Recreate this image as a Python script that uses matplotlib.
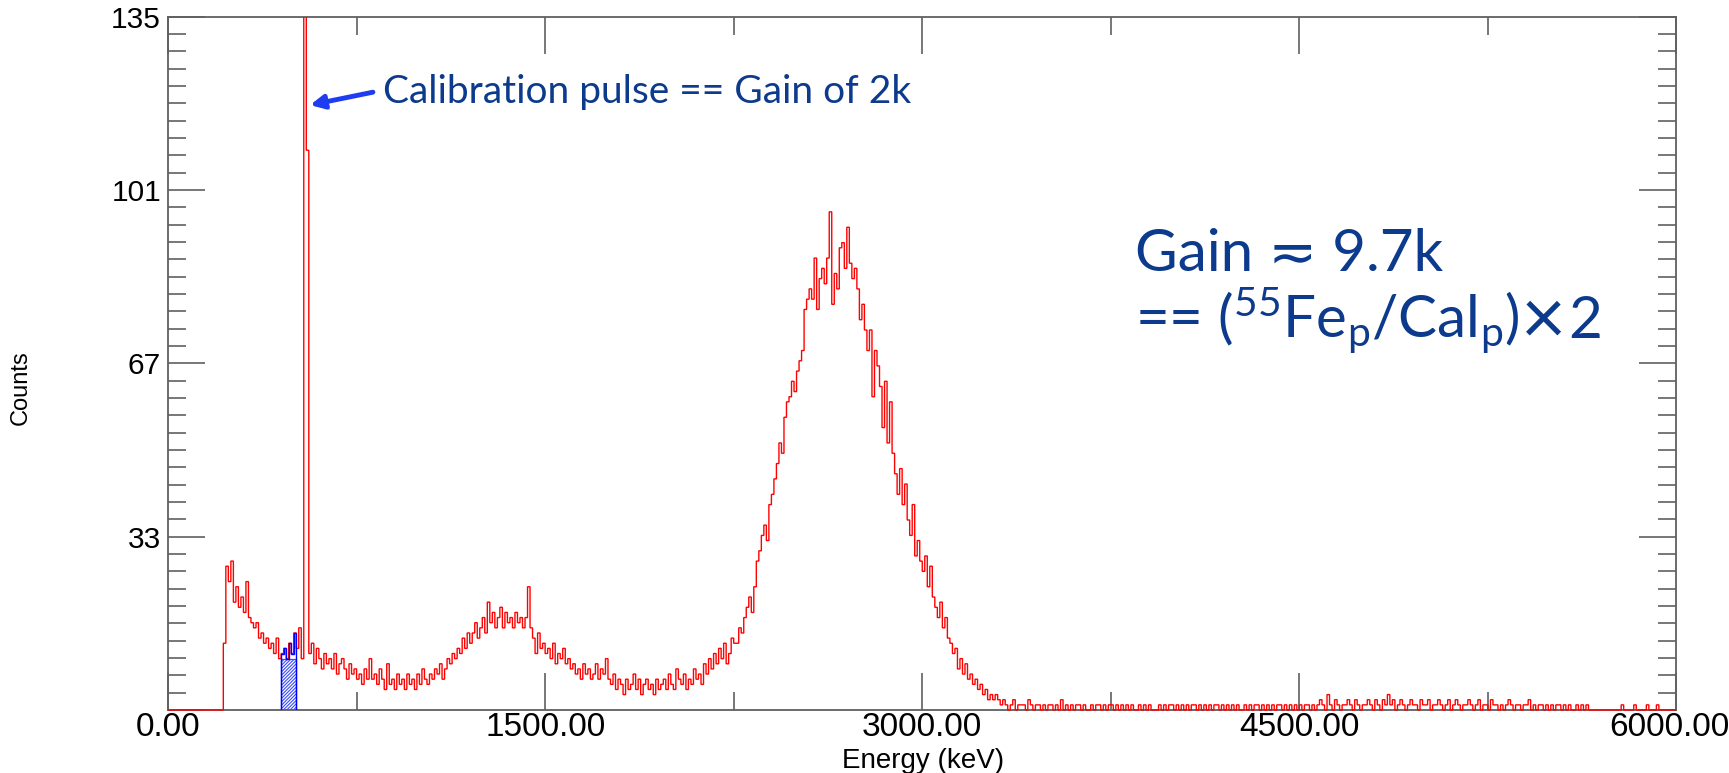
import numpy as np
import matplotlib
matplotlib.use("agg")
import matplotlib.pyplot as plt
import matplotlib.patheffects as pe
from matplotlib.patches import Rectangle
from matplotlib.transforms import ScaledTranslation
from matplotlib.ticker import MultipleLocator, FixedLocator, FixedFormatter

plt.rcParams["font.family"] = ["Liberation Sans", "DejaVu Sans"]
plt.rcParams["mathtext.fontset"] = "custom"
plt.rcParams["mathtext.rm"] = "Lato"
plt.rcParams["mathtext.it"] = "Lato:italic"
plt.rcParams["hatch.linewidth"] = 0.8

# -- spectrum, 10 keV bins --
BIN_KEV = 10
E_MAX = 6000

counts_below_threshold = [0] * 22          # 0 - 210 keV
counts_low = [                             # 220 - 990 keV
    13, 28, 25, 29, 21, 24, 20, 22,
    19, 25, 18, 17, 16, 17, 14, 15, 13, 14,
    12, 13, 11, 14, 10, 11, 12, 10, 13, 11,
    15, 12, 16, 10, 160, 109, 11, 13, 9, 12,
    10, 8, 11, 9, 10, 8, 11, 7, 9, 10,
    8, 6, 9, 7, 8, 6, 7, 5, 8, 6,
    10, 6, 7, 5, 8, 6, 4, 9, 5, 6,
    4, 7, 5, 6, 4, 7, 5, 6, 4, 7,
]
counts_bump = [                            # 1000 - 1990 keV
    5, 8, 6, 5, 7, 6, 8, 7, 9, 6,
    8, 10, 9, 11, 10, 12, 11, 14, 12, 15,
    13, 15, 17, 14, 16, 18, 15, 21, 17, 19,
    16, 18, 20, 16, 19, 17, 18, 16, 19, 17,
    18, 16, 18, 24, 16, 14, 11, 15, 12, 13,
    11, 12, 10, 13, 9, 11, 10, 12, 9, 10,
    8, 9, 7, 8, 6, 9, 7, 8, 6, 7,
    9, 6, 8, 7, 10, 6, 5, 7, 4, 6,
    5, 3, 6, 4, 5, 7, 4, 6, 3, 5,
    6, 4, 5, 3, 6, 4, 5, 6, 4, 7,
]
counts_peak = [                            # 2000 - 3340 keV
    5, 4, 8, 6, 5, 7, 4, 6, 5, 8,
    6, 7, 5, 9, 7, 10, 8, 11, 9, 12,
    10, 13, 9, 11, 14, 13, 13, 16, 15, 18,
    20, 22, 19, 24, 29, 31, 34, 36, 33, 40,
    42, 45, 48, 52, 50, 57, 60, 61, 64, 62,
    66, 68, 70, 78, 80, 82, 80, 88, 78, 84,
    86, 83, 88, 97, 79, 85, 82, 90, 91, 86,
    94, 87, 84, 86, 82, 76, 79, 74, 70, 74,
    61, 70, 67, 63, 55, 64, 52, 60, 50, 46,
    42, 47, 40, 44, 37, 34, 40, 30, 33, 29,
    27, 30, 24, 28, 22, 20, 18, 21, 16, 18,
    14, 13, 11, 12, 8, 10, 7, 9, 6, 7,
    5, 6, 4, 5, 3, 4, 2, 3, 2, 3,
    2, 1, 2, 1, 0,
]
counts_tail = [                            # 3350 - 5990 keV
    1, 2, 0, 1, 1,
    1, 0, 2, 1, 0, 1, 1, 0, 1, 0,
    1, 1, 0, 1, 0, 2, 0, 1, 0, 1,
    0, 1, 1, 0, 1, 0, 0, 1, 0, 1,
    1, 0, 1, 0, 1, 1, 0, 1, 0, 1,
    0, 1, 0, 1, 0, 0, 1, 0, 1, 0,
    1, 0, 0, 0, 1, 0, 1, 0, 1, 1,
    0, 1, 0, 1, 0, 1, 0, 1, 1, 0,
    1, 0, 1, 0, 1, 0, 1, 1, 0, 1,
    0, 1, 0, 1, 0, 1, 0, 0, 1, 0,
    1, 0, 1, 1, 0, 1, 0, 1, 0, 1,
    0, 1, 1, 0, 1, 0, 1, 0, 1, 0,
    1, 0, 1, 1, 0, 1, 0, 1, 2, 1,
    0, 3, 1, 0, 2, 1, 0, 1, 1, 2,
    1, 0, 2, 1, 0, 1, 1, 2, 1, 0,
    2, 1, 0, 2, 1, 3, 1, 2, 0, 1,
    2, 1, 0, 1, 2, 1, 1, 0, 2, 1,
    1, 2, 0, 1, 1, 2, 1, 0, 1, 2,
    0, 1, 2, 1, 0, 1, 1, 2, 1, 0,
    1, 2, 0, 1, 1, 0, 2, 1, 1, 0,
    1, 0, 1, 2, 1, 0, 1, 1, 0, 1,
    1, 2, 0, 1, 0, 1, 1, 0, 1, 0,
    1, 0, 1, 1, 0, 1, 0, 1, 0, 0,
    1, 0, 1, 0, 1, 0, 0, 0, 0, 0,
    0, 0, 0, 0, 0, 0, 0, 0, 1, 0,
    0, 0, 0, 1, 0, 0, 0, 0, 1, 0,
    0, 0, 1, 0, 0, 0, 0, 0, 0, 0,
]

# blue gate region (keV)
gate_lo_kev, gate_hi_kev = 450, 510

x_ticks = [0, 1500, 3000, 4500, 6000]
x_ticklabels = ["0.00", "1500.00", "3000.00", "4500.00", "6000.00"]
y_max = 135
y_ticks = [0, 33.75, 67.5, 101.25, 135]
y_ticklabels = ["", "33", "67", "101", "135"]

counts = np.array(counts_below_threshold + counts_low + counts_bump
                  + counts_peak + counts_tail)
edges = np.arange(len(counts) + 1) * BIN_KEV

NAVY = "#0c3a8c"
AXIS_GREY = "#606060"

fig = plt.figure(figsize=(17.29, 7.73), dpi=100)
ax = fig.add_axes([0.09717, 0.0815, 0.87246, 0.8969])

# main spectrum
st = ax.stairs(counts, edges, color="#ff0000", lw=1.0, zorder=3)
st.set_clip_path(Rectangle((0, -0.004), 1, 1.004, transform=ax.transAxes))

# gate overlay
i0, i1 = gate_lo_kev // BIN_KEV, gate_hi_kev // BIN_KEV
gate_counts = counts[i0:i1]
ax.fill_between([gate_lo_kev, gate_hi_kev], 0, gate_counts.min(),
                facecolor="none", edgecolor="#3a4cff", hatch="/" * 10,
                lw=0.9, zorder=3.5)
ax.stairs(gate_counts, edges[i0:i1 + 1], color="#0000ff", lw=1.0, zorder=4)

ax.set_xlim(0, E_MAX)
ax.set_ylim(0, y_max)

ax.xaxis.set_major_locator(FixedLocator(x_ticks))
ax.xaxis.set_major_formatter(FixedFormatter(x_ticklabels))
ax.xaxis.set_minor_locator(MultipleLocator(750))
ax.yaxis.set_major_locator(FixedLocator(y_ticks))
ax.yaxis.set_major_formatter(FixedFormatter(y_ticklabels))
ax.yaxis.set_minor_locator(MultipleLocator(y_max / 40))

ax.tick_params(which="both", direction="in", top=True, right=True,
               color=AXIS_GREY, width=1.2)
ax.tick_params(which="major", length=26.5)
ax.tick_params(which="minor", length=13)
ax.tick_params(axis="x", labelsize=24, pad=1.5)
ax.tick_params(axis="y", labelsize=21.5, pad=5)
for sp in ax.spines.values():
    sp.set_color(AXIS_GREY)
    sp.set_linewidth(1.3)

# last x label sits a little left of its tick, as in the original
last_lab = ax.xaxis.get_major_ticks()[-1].label1
last_lab.set_transform(last_lab.get_transform()
                       + ScaledTranslation(-0.07, 0, fig.dpi_scale_trans))

fig.text(0.0118, 0.498, "Counts", rotation=90, fontsize=17,
         ha="center", va="center")
fig.text(0.5336, 0.0065, "Energy (keV)", fontsize=20,
         ha="center", va="baseline")

# annotations
ax.annotate("", xy=(565, 117.8), xytext=(815, 120.3),
            arrowprops=dict(arrowstyle="-|>,head_length=0.8,head_width=0.4",
                            color="#1f3df0", lw=3.5, shrinkA=0, shrinkB=0,
                            path_effects=[pe.withSimplePatchShadow(
                                offset=(2, -2), alpha=0.35)]),
            annotation_clip=False, zorder=6)
fig.text(0.2215, 0.8668, "Calibration pulse == Gain of 2k", fontsize=28,
         family="Lato", color=NAVY, va="baseline")
fig.text(0.6565, 0.6495, "Gain \u2242 9.7k", fontsize=42,
         family=["Lato", "DejaVu Sans"], color=NAVY, va="baseline")
line2_y = 0.5625
line2 = fig.text(0.6565, line2_y,
                 r"== (${}^{55}$Fe$_{\mathrm{p}}$/Cal$_{\mathrm{p}}$)",
                 fontsize=42, family="Lato", color=NAVY, va="baseline")
renderer = fig.canvas.get_renderer()
bb = line2.get_window_extent(renderer)
times = fig.text(bb.x1 / fig.bbox.width + 0.001, line2_y - 0.007, "\u00d7",
                 fontsize=56, family="Lato", color=NAVY, va="baseline")
bb = times.get_window_extent(renderer)
fig.text(bb.x1 / fig.bbox.width + 0.001, line2_y, "2", fontsize=42,
         family="Lato", color=NAVY, va="baseline")

fig.savefig("out.png", dpi=100)
